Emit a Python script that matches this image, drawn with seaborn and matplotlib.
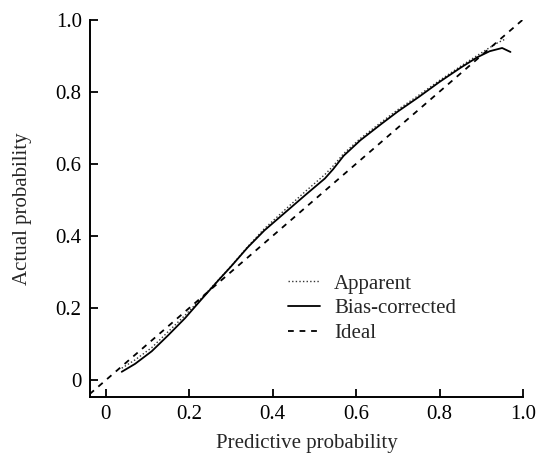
import numpy as np
import pandas as pd
import matplotlib
matplotlib.use("Agg")
import matplotlib.pyplot as plt
import seaborn as sns

# ---- data ----
bias_x = [0.038, 0.07, 0.11, 0.15, 0.19, 0.23, 0.27, 0.30, 0.34, 0.38, 0.43, 0.48, 0.525,
          0.545, 0.57, 0.61, 0.66, 0.70, 0.75, 0.80, 0.85, 0.89, 0.92, 0.95, 0.97]
bias_y = [0.023, 0.045, 0.080, 0.125, 0.172, 0.225, 0.277, 0.315, 0.368, 0.415, 0.465, 0.515, 0.559,
          0.585, 0.622, 0.665, 0.710, 0.745, 0.785, 0.827, 0.866, 0.895, 0.912, 0.921, 0.910]

app_x = [0.038, 0.07, 0.11, 0.15, 0.19, 0.23, 0.27, 0.30, 0.34, 0.38, 0.43, 0.48, 0.525,
         0.545, 0.57, 0.61, 0.66, 0.70, 0.75, 0.80, 0.85, 0.89, 0.92, 0.94, 0.96]
app_y = [0.033, 0.056, 0.090, 0.135, 0.180, 0.228, 0.278, 0.316, 0.370, 0.420, 0.473, 0.525, 0.570,
         0.594, 0.628, 0.670, 0.715, 0.750, 0.790, 0.831, 0.870, 0.900, 0.922, 0.936, 0.947]

ideal_x = [-0.06, 1.0]
ideal_y = [-0.06, 1.0]

x_ticks = [0, 0.2, 0.4, 0.6, 0.8, 1.0]
x_tick_labels = ["0", "0.2", "0.4", "0.6", "0.8", "1.0"]
y_ticks = [0, 0.2, 0.4, 0.6, 0.8, 1.0]
y_tick_labels = ["0", "0.2", "0.4", "0.6", "0.8", "1.0"]

sns.set_style("ticks")
plt.rcParams["font.family"] = ["Liberation Serif", "DejaVu Serif"]

fig = plt.figure(figsize=(5.4, 4.59), dpi=100)
ax = fig.add_axes([0.1667, 0.135, 0.9685 - 0.1667, 0.9575 - 0.135])

df_app = pd.DataFrame({"x": app_x, "y": app_y})
df_bias = pd.DataFrame({"x": bias_x, "y": bias_y})
df_ideal = pd.DataFrame({"x": ideal_x, "y": ideal_y})

sns.lineplot(data=df_app, x="x", y="y", ax=ax, color="#333333", linestyle=(0, (1, 1.6)),
             linewidth=1.0, label="Apparent", sort=False)
sns.lineplot(data=df_bias, x="x", y="y", ax=ax, color="black", linestyle="-",
             linewidth=1.3, label="Bias-corrected", sort=False)
sns.lineplot(data=df_ideal, x="x", y="y", ax=ax, color="black", linestyle=(0, (3.2, 3.2)),
             linewidth=1.3, label="Ideal", sort=False)

ax.set_xlim(-0.038, 1.0)
ax.set_ylim(-0.047, 1.0)
ax.set_xticks(x_ticks)
ax.set_xticklabels(x_tick_labels)
ax.set_yticks(y_ticks)
ax.set_yticklabels(y_tick_labels)

for s in ["top", "right"]:
    ax.spines[s].set_visible(False)
for s in ["left", "bottom"]:
    ax.spines[s].set_linewidth(1.4)
    ax.spines[s].set_color("black")

ax.tick_params(direction="in", length=6, width=1.3, labelsize=15, colors="black", pad=6)
ax.set_xlabel("Predictive probability", fontsize=15, labelpad=7)
ax.set_ylabel("Actual probability", fontsize=15, labelpad=17)

leg = ax.legend(loc="upper left", bbox_to_anchor=(0.457, 0.326), frameon=False, fontsize=15,
                handlelength=1.54, handletextpad=0.67, labelspacing=0.25,
                borderpad=0, borderaxespad=0)

fig.savefig("out.png", dpi=100, facecolor="white")
